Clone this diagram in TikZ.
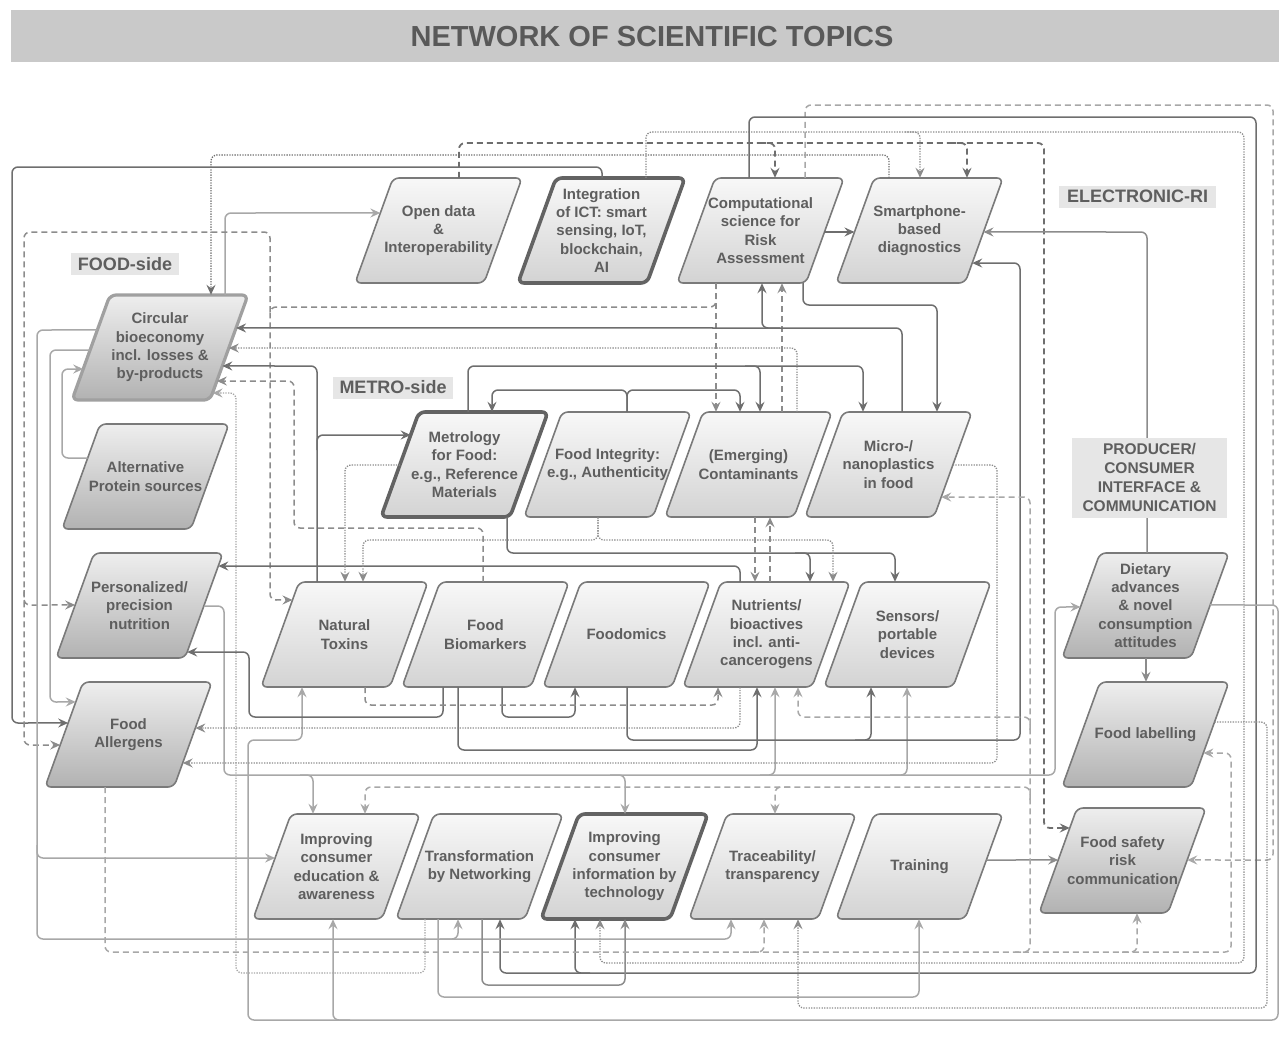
\documentclass[tikz,border=0pt]{standalone}
\usepackage{fontspec}
\setmainfont{Liberation Sans}
\usetikzlibrary{calc,arrows.meta}
\definecolor{lnA}{HTML}{6E6E6E}
\definecolor{lnB}{HTML}{8C8C8C}
\definecolor{lnC}{HTML}{A8A8A8}
\definecolor{txtc}{HTML}{5E5E5E}
\definecolor{bord}{HTML}{7A7A7A}
\definecolor{btop}{HTML}{F8F8F8}
\definecolor{bbot}{HTML}{D3D3D3}
\definecolor{dtop}{HTML}{EEEEEE}
\definecolor{dbot}{HTML}{B2B2B2}
\definecolor{labfill}{HTML}{E6E6E6}
\definecolor{titlefill}{HTML}{C9C9C9}
\newcommand\pbox[6]{%
  \path[#5] (#2,#3+105) -- (#2+#4,#3+105) -- (#2+#4+38,#3) -- (#2+38,#3) -- cycle;
  \coordinate (#1-bl) at (#2,#3+105);
  \coordinate (#1-br) at (#2+#4,#3+105);
  \coordinate (#1-tr) at (#2+#4+38,#3);
  \coordinate (#1-tl) at (#2+38,#3);
  \node[txt, minimum width=#4pt, minimum height=105pt] (#1) at ({#2+19+#4/2},{#3+52.5}) {#6};
}
\tikzset{
  txt/.style={align=center, text=txtc, inner sep=0pt, font=\bfseries\fontsize{15}{18.3}\selectfont},
  plain/.style={rounded corners=6pt, draw=bord, line width=1.6pt, top color=btop, bottom color=bbot},
  pdark/.style={rounded corners=6pt, draw=bord, line width=1.6pt, top color=dtop, bottom color=dbot},
  pthick/.style={rounded corners=6pt, draw=lnA!90!black, line width=3.6pt, top color=btop, bottom color=bbot},
  pcirc/.style={rounded corners=6pt, draw=lnC!95!black, line width=3.2pt, top color=dtop, bottom color=dbot},
  cn/.style={rounded corners=6pt, line width=1.5pt},
  dk/.style={cn, draw=lnA},
  md/.style={cn, draw=lnB},
  lt/.style={cn, draw=lnC},
  dsh/.style={dash pattern=on 6pt off 4pt},
  dot/.style={dash pattern=on 1.3pt off 1.3pt, line width=1.3pt},
  ar/.style={-{Stealth[length=10pt,width=9pt,inset=3.5pt]}},
  lab/.style={fill=labfill, text=txtc, inner sep=0pt, font=\bfseries\fontsize{18}{20}\selectfont},
}
\begin{document}
\begin{tikzpicture}[x=1pt,y=-1pt]
\useasboundingbox (0,0) rectangle (1279,1053);
% title
\fill[titlefill] (11,10) rectangle (1279,62);
\node[text=txtc!95!black, font=\bfseries\fontsize{29}{32}\selectfont] (title) at (652,37) {NETWORK OF SCIENTIFIC TOPICS};

% boxes
\pbox{open}{355}{178}{129}{plain}{Open data\\\&\\Interoperability}
\pbox{ict}{518}{178}{129}{pthick}{Integration\\of ICT: smart\\sensing, IoT,\\blockchain,\\AI}
\pbox{comp}{677}{178}{129}{plain}{Computational\\science for\\Risk\\Assessment}
\pbox{smart}{836}{178}{129}{plain}{Smartphone-\\based\\diagnostics}
\pbox{circ}{72}{295}{138}{pcirc}{Circular\\bioeconomy\\incl. losses \&\\by-products}
\pbox{alt}{62}{424}{129}{pdark}{Alternative\\Protein sources}
\pbox{pers}{56}{553}{129}{pdark}{Personalized/\\precision\\nutrition}
\pbox{aller}{45}{682}{129}{pdark}{Food\\Allergens}
\pbox{metro}{381}{412}{129}{pthick}{Metrology\\for Food:\\e.g., Reference\\Materials}
\pbox{integ}{524}{412}{129}{plain}{Food Integrity:\\e.g., Authenticity}
\pbox{cont}{665}{412}{129}{plain}{(Emerging)\\Contaminants}
\pbox{micro}{805}{412}{129}{plain}{Micro-/\\nanoplastics\\in food}
\pbox{tox}{261}{582}{129}{plain}{Natural\\Toxins}
\pbox{biom}{402}{582}{129}{plain}{Food\\Biomarkers}
\pbox{omics}{543}{582}{129}{plain}{Foodomics}
\pbox{nutr}{683}{582}{129}{plain}{Nutrients/\\bioactives\\incl. anti-\\cancerogens}
\pbox{sens}{824}{582}{129}{plain}{Sensors/\\portable\\devices}
\pbox{diet}{1062}{553}{129}{pdark}{Dietary\\advances\\\& novel\\consumption\\attitudes}
\pbox{label}{1062}{682}{129}{pdark}{Food labelling}
\pbox{fsrc}{1039}{808}{129}{pdark}{Food safety\\risk\\communication}
\pbox{edu}{253}{814}{129}{plain}{Improving\\consumer\\education \&\\awareness}
\pbox{net}{396}{814}{129}{plain}{Transformation\\by Networking}
\pbox{info}{541}{814}{129}{pthick}{Improving\\consumer\\information by\\technology}
\pbox{trace}{689}{814}{129}{plain}{Traceability/\\transparency}
\pbox{train}{836}{814}{129}{plain}{Training}

% connectors
\draw[dk,ar] (602,0 |- ict.north) -- (602,167) -- (12,167) -- (12,723) -- ($(aller-tl)!0.39!(aller-bl)$);
\draw[dk,dot,ar] (889,0 |- smart.north) -- (889,155) -- (211,155) -- (211,0 |- circ.north);
\draw[dk,dsh,line width=1.8pt,ar] (459,0 |- open.north) -- (459,143) -- (1044,143) -- (1044,828) -- ($(fsrc-tl)!0.19!(fsrc-bl)$);
\draw[dk,dsh,line width=1.8pt,ar] (760,143) -- (775,143) -- (775,0 |- comp.north);
\draw[dk,dsh,line width=1.8pt,ar] (950,143) -- (967,143) -- (967,0 |- smart.north);
\draw[md,dot,ar] (646,0 |- ict.north) -- (646,132) -- (1244,132) -- (1244,963) -- (600,963) -- (600,0 |- info.south);
\draw[md,dot,ar] (905,132) -- (920,132) -- (920,0 |- smart.north);
\draw[lt,dsh,ar] (805,0 |- comp.north) -- (805,105) -- (1273,105) -- (1273,860) -- ($(fsrc-tr)!0.495!(fsrc-br)$);
\draw[dk,ar] (749,0 |- comp.north) -- (749,117) -- (1256,117) -- (1256,973) -- (500,973) -- (500,0 |- net.south);
\draw[dk,ar] (590,973) -- (575,973) -- (575,0 |- info.south);
\draw[dk,ar] ($(comp-tr)!0.514!(comp-br)$) -- ($(smart-tl)!0.514!(smart-bl)$);
\draw[lt,ar] (225,0 |- circ.north) -- (225,213) -- ($(open-tl)!0.333!(open-bl)$);
\draw[md,dsh,ar] (716,0 |- comp.south) -- (716,307) -- (270,307) -- (270,600) -- ($(tox-tl)!0.171!(tox-bl)$);
\draw[md,dsh,ar] (270,312) -- (270,232) -- (24,232) -- (24,745) -- ($(aller-tl)!0.6!(aller-bl)$);
\draw[md,dsh,ar] (24,590) -- (24,605) -- ($(pers-tl)!0.495!(pers-bl)$);
\draw[md,dsh,ar] (716,0 |- comp.south) -- (716,0 |- cont.north);
\draw[md,dsh,ar] (782,0 |- cont.north) -- (782,0 |- comp.south);
\draw[dk,ar] (902,0 |- micro.north) -- (902,328) -- ($(circ-tr)!0.314!(circ-br)$);
\draw[dk,ar] (780,328) -- (762,328) -- (762,0 |- comp.south);
\draw[md,dot,ar] (797,0 |- cont.north) -- (797,348) -- ($(circ-tr)!0.505!(circ-br)$);
\draw[dk,ar] (317,0 |- tox.north) -- (317,366) -- ($(circ-tr)!0.676!(circ-br)$);
\draw[dk,ar] (317,450) -- (317,435) -- ($(metro-tl)!0.219!(metro-bl)$);
\draw[md,dsh,ar] (483,0 |- biom.north) -- (483,528) -- (294,528) -- (294,381) -- ($(circ-tr)!0.819!(circ-br)$);
\draw[lt,dot,ar] (425,0 |- net.south) -- (425,973) -- (236,973) -- (236,393) -- ($(circ-tr)!0.933!(circ-br)$);
\draw[lt,ar] ($(alt-tl)!0.324!(alt-bl)$) -- (62,458) -- (62,369) -- ($(circ-tl)!0.705!(circ-bl)$);
\draw[lt,ar] ($(circ-tl)!0.333!(circ-bl)$) -- (37,330) -- (37,939) -- (731,939) -- (731,0 |- trace.south);
\draw[lt,ar] (37,845) -- (37,858) -- ($(edu-tl)!0.419!(edu-bl)$);
\draw[lt,ar] (440,939) -- (458,939) -- (458,0 |- net.south);
\draw[lt,ar] ($(circ-tl)!0.524!(circ-bl)$) -- (50,350) -- (50,702) -- ($(aller-tl)!0.19!(aller-bl)$);
\draw[lt,ar] ($(pers-tr)!0.505!(pers-br)$) -- (224,606) -- (224,775) -- (1055,775) -- (1055,607) -- ($(diet-tl)!0.514!(diet-bl)$);
\draw[lt,ar] (300,775) -- (313,775) -- (313,0 |- edu.north);
\draw[lt,ar] (610,775) -- (625,775) -- (625,0 |- info.north);
\draw[lt,ar] (760,775) -- (775,775) -- (775,0 |- nutr.south);
\draw[lt,ar] (890,775) -- (907,775) -- (907,0 |- sens.south);
\draw[lt,ar] ($(diet-tr)!0.495!(diet-br)$) -- (1278,605) -- (1278,1020) -- (248,1020) -- (248,740) -- (302,740) -- (302,0 |- tox.south);
\draw[lt,ar] (350,1020) -- (333,1020) -- (333,0 |- edu.south);
\draw[lt,ar] (438,0 |- net.south) -- (438,997) -- (919,997) -- (919,0 |- train.south);
\draw[md,ar] (482,0 |- net.south) -- (482,985) -- (625,985) -- (625,0 |- info.south);
\draw[md,dot,ar] ($(label-tr)!0.381!(label-br)$) -- (1267,722) -- (1267,1008) -- (798,1008) -- (798,0 |- trace.south);
\draw[md,ar] (1146,0 |- diet.south) -- (1146,0 |- label.north);
\draw[md,ar] (1147,0 |- diet.north) -- (1147,232) -- ($(smart-tr)!0.514!(smart-br)$);
\draw[md,ar] ($(train-tr)!0.438!(train-br)$) -- ($(fsrc-tl)!0.495!(fsrc-bl)$);
\draw[dk,ar] (627,0 |- omics.south) -- (627,740) -- (1020,740) -- (1020,263) -- ($(smart-tr)!0.81!(smart-br)$);
\draw[dk,ar] (855,740) -- (871,740) -- (871,0 |- sens.south);
\draw[dk,ar] (458,0 |- biom.south) -- (458,750) -- (757,750) -- (757,0 |- nutr.south);
\draw[dk,ar] (443,0 |- biom.south) -- (443,717) -- (249,717) -- (249,652) -- ($(pers-tr)!0.943!(pers-br)$);
\draw[dk,ar] (502,0 |- biom.south) -- (502,717) -- (575,717) -- (575,0 |- omics.south);
\draw[md,dsh,ar] (365,0 |- tox.south) -- (365,705) -- (718,705) -- (718,0 |- nutr.south);
\draw[md,dot,ar] (740,0 |- nutr.south) -- (740,728) -- ($(aller-tr)!0.438!(aller-br)$);
\draw[md,dot,ar] ($(micro-tr)!0.505!(micro-br)$) -- (997,465) -- (997,763) -- ($(aller-tr)!0.771!(aller-br)$);
\draw[dk,ar] (740,0 |- nutr.north) -- (740,566) -- ($(pers-tr)!0.124!(pers-br)$);
\draw[dk,ar] (507,0 |- metro.south) -- (507,553) -- (895,553) -- (895,0 |- sens.north);
\draw[dk,ar] (795,553) -- (810,553) -- (810,0 |- nutr.north);
\draw[md,dot,ar] (598,0 |- integ.south) -- (598,540) -- (363,540) -- (363,0 |- tox.north);
\draw[md,dot,ar] (598,0 |- integ.south) -- (598,540) -- (833,540) -- (833,0 |- nutr.north);
\draw[md,dot,ar] ($(metro-tl)!0.505!(metro-bl)$) -- (345,465) -- (345,0 |- tox.north);
\draw[md,dsh,ar] (755,0 |- cont.south) -- (755,0 |- nutr.north);
\draw[md,dsh,ar] (770,0 |- nutr.north) -- (770,0 |- cont.south);
\draw[dk,ar] (468,0 |- metro.north) -- (468,366) -- (863,366) -- (863,0 |- micro.north);
\draw[dk,ar] (745,366) -- (760,366) -- (760,0 |- cont.north);
\draw[dk,ar] (627,0 |- integ.north) -- (627,390) -- (492,390) -- (492,0 |- metro.north);
\draw[dk,ar] (627,0 |- integ.north) -- (627,390) -- (740,390) -- (740,0 |- cont.north);
\draw[dk,ar] (803,0 |- comp.south) -- (803,305) -- (937,305) -- (937,0 |- micro.north);
\draw[lt,dsh,ar] (105,0 |- aller.south) -- (105,952) -- (1231,952) -- (1231,753) -- ($(label-tr)!0.676!(label-br)$);
\draw[lt,dsh,ar] (750,952) -- (764,952) -- (764,0 |- trace.south);
\draw[lt,dsh,ar] (1122,952) -- (1137,952) -- (1137,0 |- fsrc.south);
\draw[lt,dsh,ar] (1015,952) -- (1030,952) -- (1030,497) -- ($(micro-tr)!0.81!(micro-br)$);
\draw[lt,dsh,ar] (1030,730) -- (1030,717) -- (798,717) -- (798,0 |- nutr.south);
\draw[lt,dsh,ar] (1030,800) -- (1030,787) -- (365,787) -- (365,0 |- edu.north);
\draw[lt,dsh,ar] (790,787) -- (775,787) -- (775,0 |- trace.north);

% section labels
\node[lab, minimum width=108pt, minimum height=22pt] (foodside) at (125,264) {FOOD-side};
\node[lab, minimum width=120pt, minimum height=22pt] (metroside) at (393,387.5) {METRO-side};
\node[lab, minimum width=157pt, minimum height=22pt] (eri) at (1137.5,196.5) {ELECTRONIC-RI};
\node[lab, font=\bfseries\fontsize{15.5}{19}\selectfont, align=center, minimum width=155pt, minimum height=80pt] (pci) at (1149.5,477.5) {PRODUCER/\\CONSUMER\\INTERFACE \&\\COMMUNICATION};
\end{tikzpicture}
\end{document}
